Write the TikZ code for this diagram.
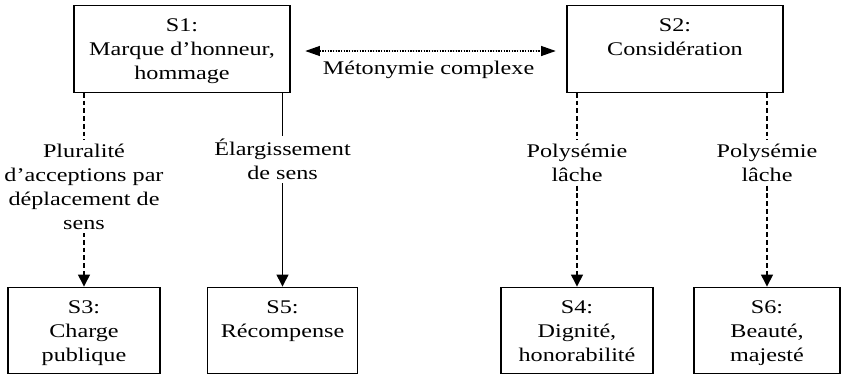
\documentclass[tikz,border=0pt]{standalone}
\usepackage{fontspec}
\setmainfont{Liberation Serif}[FakeStretch=1.25]
\usetikzlibrary{arrows.meta}
\newcommand{\haut}{\rule{0pt}{13.6pt}}
\newcommand{\bas}{\rule[-3.2pt]{0pt}{0pt}}

\begin{document}
\begin{tikzpicture}[x=0.75pt, y=-0.75pt, line width=0.9pt,
    sens/.style={draw, align=center, inner sep=0pt, minimum height=65pt,
      font=\fontsize{14.5pt}{18pt}\selectfont},
    lien/.style={fill=white, align=center, inner sep=2.5pt,
      font=\fontsize{14.5pt}{18pt}\selectfont},
    fl/.style={-{Triangle[width=9pt,length=9pt]}},
    tirets/.style={dash pattern=on 3.6pt off 2.2pt}]
    \useasboundingbox (0, 0) rectangle (841, 375);
    \node[sens, minimum width=162pt] (S1) at (182, 49) {\haut S1:\\ Marque d’honneur,\\ hommage\bas};
    \node[sens, minimum width=162pt] (S2) at (675, 49) {\haut S2:\\ Considération\\ \bas};
    \node[sens, minimum width=114pt] (S3) at (84, 330.5) {\haut S3:\\ Charge\\ publique\bas};
    \node[sens, minimum width=113pt] (S5) at (282.5, 330.5) {\haut S5:\\ Récompense\\ \bas};
    \node[sens, minimum width=114pt] (S4) at (577, 330.5) {\haut S4:\\ Dignité,\\ honorabilité\bas};
    \node[sens, minimum width=109.5pt] (S6) at (767, 330.5) {\haut S6:\\ Beauté,\\ majesté\bas};
    \draw[{Triangle[width=7.5pt,length=11pt]}-{Triangle[width=7.5pt,length=11pt]},
      dash pattern=on 1pt off 1pt, shorten <=11pt, shorten >=8pt]
      ([yshift=-1.5pt]S1.east) -- node[below=4pt, font=\fontsize{14.5pt}{18pt}\selectfont]
      {Métonymie complexe} ([yshift=-1.5pt]S2.west);
    \draw[tirets, fl] (S1.south -| S3) -- node[lien, pos=0.483]
      {Pluralité\\ d’acceptions par\\ déplacement de\\ sens} (S3);
    \draw[fl] (S1.south -| S5) -- node[lien, pos=0.345] {Élargissement\\ de sens} (S5);
    \foreach \s in {S4, S6}
      {\draw[tirets, fl] (S2.south -| \s) -- node[lien, pos=0.36] {Polysémie\\ lâche} (\s);}
  \end{tikzpicture}
\end{document}
